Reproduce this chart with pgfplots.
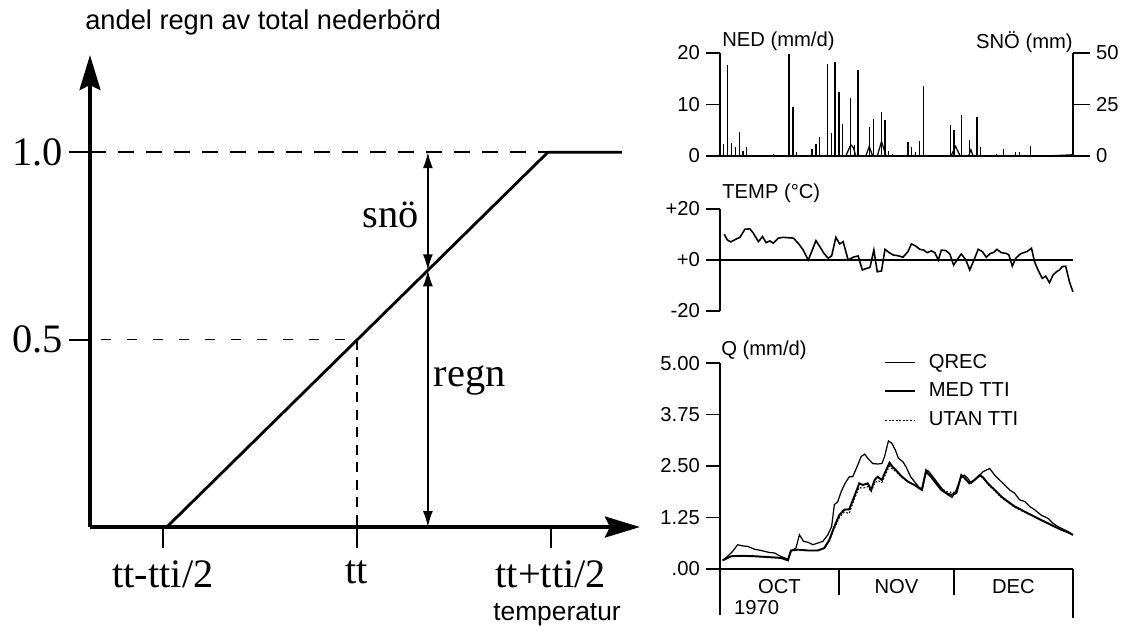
\documentclass[border=0pt]{standalone}
\usepackage{pgfplots}
\pgfplotsset{compat=1.18}
\usepackage{fontspec}
\setmainfont{Liberation Sans}
\newfontfamily\tms{Liberation Serif}
\usetikzlibrary{arrows.meta}

\newcommand\sml{\fontsize{11.5}{13.5}\selectfont}

\begin{document}
\begin{tikzpicture}
% pixel frame of the reference (1126 x 630)
\begin{scope}[x=0.02cm,y=-0.02cm]
\path (0,0) rectangle (1126,630);
\coordinate (L) at (90,527);
\coordinate (N) at (720,156);
\coordinate (T) at (720,311);
\coordinate (Q) at (720,569);
\end{scope}

% ---- left: share of rain vs temperature
\begin{axis}[
    at={(L)}, anchor=south west, scale only axis,
    width=11cm, height=9.44cm,
    xmin=-1.376, xmax=1.459, ymin=0, ymax=1.259,
    axis lines=left,
    axis line style={line width=1.8pt, -{Stealth[length=0.7cm,width=0.42cm,inset=0.1cm]}},
    xtick={-1,0,1}, xticklabels={tt-tti/2,tt,tt+tti/2},
    ytick={0.5,1}, yticklabels={0.5,1.0},
    tick align=outside, major tick length=0.42cm,
    tick style={line width=1.2pt, black},
    ticklabel style={font=\tms\fontsize{23}{27}\selectfont},
    xticklabel style={yshift=-0.14cm},
    clip=false,
]
\addplot[line width=1.6pt] coordinates {(-0.98,0) (0.985,1) (1.366,1)};
\addplot[line width=0.8pt, dash pattern=on 0.32cm off 0.24cm] coordinates {(-1.376,1) (0.985,1)};
\addplot[line width=0.6pt, dash pattern=on 0.2cm off 0.32cm] coordinates {(-1.32,0.5) (0,0.5)};
\addplot[line width=0.7pt, dash pattern=on 0.2cm off 0.15cm] coordinates {(0,0.5) (0,0)};
\draw[line width=0.9pt, {Latex[length=0.32cm,width=0.2cm]}-{Latex[length=0.32cm,width=0.2cm]}]
    (axis cs:0.366,1) -- (axis cs:0.366,0.685);
\draw[line width=0.9pt, {Latex[length=0.32cm,width=0.2cm]}-{Latex[length=0.32cm,width=0.2cm]}]
    (axis cs:0.366,0.685) -- (axis cs:0.366,0);
\node[font=\tms\fontsize{23}{27}\selectfont] at (axis cs:0.175,0.832) {snö};
\node[font=\tms\fontsize{23}{27}\selectfont] at (axis cs:0.582,0.392) {regn};
\end{axis}

% ---- NED (left scale)
\begin{axis}[
    at={(N)}, anchor=south west, scale only axis,
    width=7.06cm, height=2.06cm,
    xmin=0, xmax=92, ymin=0, ymax=20,
    axis x line*=bottom, axis y line*=left,
    axis line style={line width=0.8pt, -},
    xtick=\empty, ytick={0,10,20}, yticklabels={0,10,20},
    tick align=outside, major tick length=0.28cm,
    tick style={line width=0.8pt, black},
    ticklabel style={font=\sml},
    clip=false,
]
\addplot[ycomb, no marks, line width=0.7pt] coordinates {
  (1,2.3)(2,17.7)(3,2.5)(4,1.7)(5,4.7)(6,1.0)(7,1.8)(14,0.3)(15,0.2)
  (18,19.8)(19,9.6)(20,0.7)(24,1.3)(25,2.3)(26,3.6)(28,17.9)(29,4.5)
  (30,18.2)(31,12.4)(32,6.2)(34,11.2)(35,2.1)(36,16.8)(39,5.6)(40,7.1)
  (42,8.6)(43,7.0)(44,1.0)(45,0.4)(49,2.7)(50,1.8)(51,0.8)(52,3.0)
  (53,13.5)(54,0.2)(57,0.2)(60,6.0)(61,5.1)(63,7.9)(65,3.1)(67,7.5)
  (68,1.8)(72,0.3)(74,1.3)(77,0.8)(78,0.8)(81,1.9)(87,0.1)(88,0.1)
  (89,0.1)(90,0.2)(91,0.2)
};
\end{axis}

% ---- SNÖ (right scale)
\begin{axis}[
    at={(N)}, anchor=south west, scale only axis,
    width=7.06cm, height=2.06cm,
    xmin=0, xmax=92, ymin=0, ymax=50,
    axis x line=none, axis y line*=right,
    axis line style={line width=0.8pt, -},
    xtick=\empty, ytick={0,25,50}, yticklabels={0,25,50},
    tick align=outside, major tick length=0.34cm,
    tick style={line width=0.8pt, black},
    ticklabel style={font=\sml},
    clip=false,
]
\addplot[line width=0.7pt] coordinates {
  (0,0)(32.8,0)(33.5,3)(34.1,5.5)(34.8,4)(35.4,0)(38,0)(38.9,4.7)(39.8,0)
  (41,0)(42.1,7)(43.3,0)(60.2,0)(61.4,4.7)(62.6,0)(64.8,0)(65.4,3)(66,0)
  (85,0)(92,0.6)
};
\end{axis}

% ---- TEMP
\begin{axis}[
    at={(T)}, anchor=south west, scale only axis,
    width=7.06cm, height=2.04cm,
    xmin=0, xmax=92, ymin=-20, ymax=20,
    axis x line=none, axis y line*=left,
    axis line style={line width=0.8pt, -},
    xtick=\empty, ytick={-20,0,20}, yticklabels={-20,+0,+20},
    tick align=outside, major tick length=0.28cm,
    tick style={line width=0.8pt, black},
    ticklabel style={font=\sml},
    clip=false,
]
\addplot[line width=0.8pt] coordinates {(0,0) (92,0)};
\addplot[line width=0.9pt] coordinates {
  (1.1,10.1)(1.9,7.9)(2.8,7.1)(4.3,8.3)(5.2,8.9)(6.5,12.1)(7.8,12.2)(8.7,10.5)
  (10.0,7.2)(11.1,9.2)(12.0,6.8)(13.0,7.5)(13.9,6.6)(15.2,8.6)(16.5,8.9)(19.1,8.6)
  (20.4,6.6)(21.7,3.9)(23.0,0)(23.9,3.3)(25.0,7.6)(26.0,5.3)(27.1,2.6)(28.2,0.7)
  (29.1,1.6)(30.2,8.9)(31.2,6.3)(32.1,7.2)(33.4,0)(34.7,1.1)(36.0,1.6)(37.1,-3.9)
  (38.2,-3.3)(39.1,-2.9)(40.1,3.9)(41.0,-4.6)(42.1,-4.3)(43.0,4.2)(44.1,2.9)(45.1,2.0)
  (46.4,1.7)(47.7,1.1)(49.0,3.3)(49.9,6.3)(51.0,5.5)(52.1,4.2)(53.1,3.9)(54.0,2.9)
  (55.1,3.6)(56.0,2.9)(56.9,0)(57.7,3.9)(58.9,3.7)(59.9,2.4)(60.9,-2.0)(61.9,0.3)
  (62.9,2.4)(64.1,0)(65.1,-3.9)(66.2,0)(67.3,4.2)(68.4,3.3)(69.4,1.1)(70.5,2.6)
  (71.4,3.0)(72.2,4.2)(73.3,2.9)(74.6,2.6)(75.3,2.0)(76.2,-2.4)(77.1,0.7)(78.3,2.4)
  (79.2,2.9)(80.0,3.3)(81.2,4.6)(82.0,-0.7)(82.9,-3.9)(84.0,-7.2)(84.9,-6.3)(85.9,-8.9)
  (86.8,-5.9)(87.7,-4.6)(88.5,-3.9)(89.2,-2.6)(90.1,-2.4)(91.1,-8.6)(92.0,-12.5)
};
\end{axis}

% ---- Q
\begin{axis}[
    at={(Q)}, anchor=south west, scale only axis,
    width=7.06cm, height=4.12cm,
    xmin=0, xmax=92, ymin=0, ymax=5,
    axis x line*=bottom, axis y line*=left,
    axis line style={line width=0.8pt, -},
    xtick=\empty, ytick={0,1.25,2.5,3.75,5},
    yticklabels={.00,1.25,2.50,3.75,5.00},
    tick align=outside, major tick length=0.28cm,
    tick style={line width=0.8pt, black},
    ticklabel style={font=\sml},
    legend style={draw=none, fill=none, font=\sml, at={(0.45,1.08)},
        anchor=north west, row sep=3pt},
    legend cell align=left,
    legend image code/.code={\draw[#1] (0cm,0cm) -- (0.6cm,0cm); \path (0.78cm,0cm);},
    clip=false,
]
\addplot[line width=0.7pt] coordinates {
  (0.7,0.21)(2.0,0.31)(3.3,0.43)(4.6,0.59)(5.9,0.56)(7.2,0.55)(9.0,0.48)(10.7,0.45)
  (12.9,0.40)(14.2,0.39)(15.5,0.32)(16.8,0.27)(17.7,0.24)(18.5,0.43)(19.8,0.51)(20.7,0.83)
  (21.8,0.67)(22.9,0.65)(24.2,0.59)(25.5,0.63)(26.8,0.67)(28.1,0.83)(29.1,1.03)(29.8,1.56)
  (30.7,1.64)(31.6,1.88)(32.6,2.08)(33.7,2.24)(34.6,2.24)(35.7,2.48)(36.8,2.73)(37.7,2.79)
  (38.5,2.69)(39.8,2.56)(41.1,2.55)(42.2,2.56)(42.9,2.73)(43.9,3.11)(44.8,3.05)(45.7,2.89)
  (46.5,2.69)(47.7,2.60)(48.5,2.48)(49.7,2.24)(50.7,2.12)(51.7,2.00)(52.7,1.92)(53.7,2.40)
  (54.3,2.38)(55.5,2.24)(56.8,2.08)(58.1,1.92)(59.4,1.80)(60.5,1.74)(61.6,1.92)(62.9,2.24)
  (63.7,2.28)(64.6,2.20)(65.5,2.08)(66.4,2.16)(67.4,2.24)(68.5,2.36)(70.3,2.44)(71.6,2.28)
  (72.9,2.16)(74.2,2.04)(75.5,1.92)(76.8,1.84)(78.1,1.68)(79.4,1.64)(80.7,1.52)(82.0,1.44)
  (83.7,1.31)(85.5,1.23)(86.8,1.11)(88.1,1.03)(89.4,0.97)(90.7,0.91)(92.0,0.83)
};
\addlegendentry{QREC}
\addplot[line width=1.1pt] coordinates {
  (0.7,0.21)(2.9,0.31)(5.5,0.32)(9.0,0.31)(12.4,0.29)(15.9,0.27)(17.7,0.21)(18.5,0.45)
  (20.3,0.47)(22.9,0.45)(25.5,0.45)(27.2,0.51)(28.5,0.71)(29.8,1.03)(31.1,1.31)(32.4,1.44)
  (33.7,1.45)(35.0,1.76)(36.3,2.08)(37.2,2.04)(38.5,2.08)(39.4,1.92)(40.3,2.16)(41.1,2.24)
  (42.2,2.16)(42.9,2.32)(44.2,2.58)(45.0,2.48)(45.9,2.40)(47.2,2.26)(49.0,2.12)(50.7,2.04)
  (52.6,1.92)(53.7,2.36)(55.0,2.24)(56.3,2.08)(57.7,1.92)(59.0,1.84)(60.3,1.80)(61.6,1.84)
  (62.9,2.28)(63.9,2.20)(65.0,2.08)(66.3,2.16)(67.7,2.28)(68.5,2.23)(69.8,2.08)(71.6,1.92)
  (73.3,1.76)(75.0,1.64)(76.8,1.52)(78.5,1.44)(80.3,1.35)(82.0,1.27)(83.7,1.19)(85.5,1.11)
  (87.2,1.03)(89.0,0.95)(90.7,0.89)(92.0,0.83)
};
\addlegendentry{MED TTI}
\addplot[line width=0.6pt, dash pattern=on 1pt off 1pt] coordinates {
  (0.7,0.21)(2.9,0.31)(5.5,0.32)(9.0,0.31)(12.4,0.29)(15.9,0.27)(17.7,0.21)(18.5,0.45)
  (20.3,0.47)(22.9,0.45)(25.5,0.45)(27.2,0.50)(28.5,0.68)(29.8,0.98)(31.1,1.25)(32.4,1.38)
  (33.7,1.35)(35.0,1.70)(36.3,1.98)(37.2,1.96)(38.5,2.00)(39.4,1.88)(40.3,2.08)(41.1,2.15)
  (42.2,2.10)(42.9,2.25)(44.2,2.50)(45.0,2.42)(45.9,2.36)(47.2,2.24)(49.0,2.12)(50.7,2.04)
  (52.6,1.94)(53.7,2.42)(55.0,2.28)(56.3,2.12)(57.7,1.96)(59.0,1.88)(60.3,1.86)(61.6,1.86)
  (62.9,2.26)(63.9,2.18)(65.0,2.08)(66.3,2.16)(67.7,2.26)(68.5,2.22)(69.8,2.06)(71.6,1.90)
  (73.3,1.74)(75.0,1.62)(76.8,1.50)(78.5,1.42)(80.3,1.34)(82.0,1.27)(83.7,1.19)(85.5,1.11)
  (87.2,1.03)(89.0,0.96)(90.7,0.89)(92.0,0.83)
};
\addlegendentry{UTAN TTI}
% month strip under the time axis
\draw[line width=0.8pt] (axis cs:31,0) -- ++(0,-0.52cm);
\draw[line width=0.8pt] (axis cs:61,0) -- ++(0,-0.52cm);
\draw[line width=0.8pt] (axis cs:0,0) -- ++(0,-0.92cm);
\draw[line width=0.8pt] (axis cs:92,0) -- ++(0,-0.98cm);
\node[font=\sml] at ([yshift=-0.36cm]axis cs:15.5,0) {OCT};
\node[font=\sml] at ([yshift=-0.36cm]axis cs:46,0) {NOV};
\node[font=\sml] at ([yshift=-0.36cm]axis cs:76.5,0) {DEC};
\node[font=\sml, anchor=west, inner sep=0pt] at ([yshift=-0.78cm]axis cs:3.6,0) {1970};
\end{axis}

% ---- titles and labels
\begin{scope}[x=0.02cm,y=-0.02cm]
\node[anchor=west, inner sep=0pt, font=\fontsize{15.5}{18}\selectfont] at (85,22) {andel regn av total nederbörd};
\node[inner sep=0pt, font=\fontsize{15}{18}\selectfont] at (557,615) {temperatur};
\node[anchor=west, inner sep=0pt, font=\sml] at (722,41) {NED (mm/d)};
\node[anchor=east, inner sep=0pt, font=\sml] at (1073,42) {SNÖ (mm)};
\node[anchor=west, inner sep=0pt, font=\sml] at (722,193) {TEMP (°C)};
\node[anchor=west, inner sep=0pt, font=\sml] at (721,350) {Q (mm/d)};
\end{scope}
\end{tikzpicture}
\end{document}
